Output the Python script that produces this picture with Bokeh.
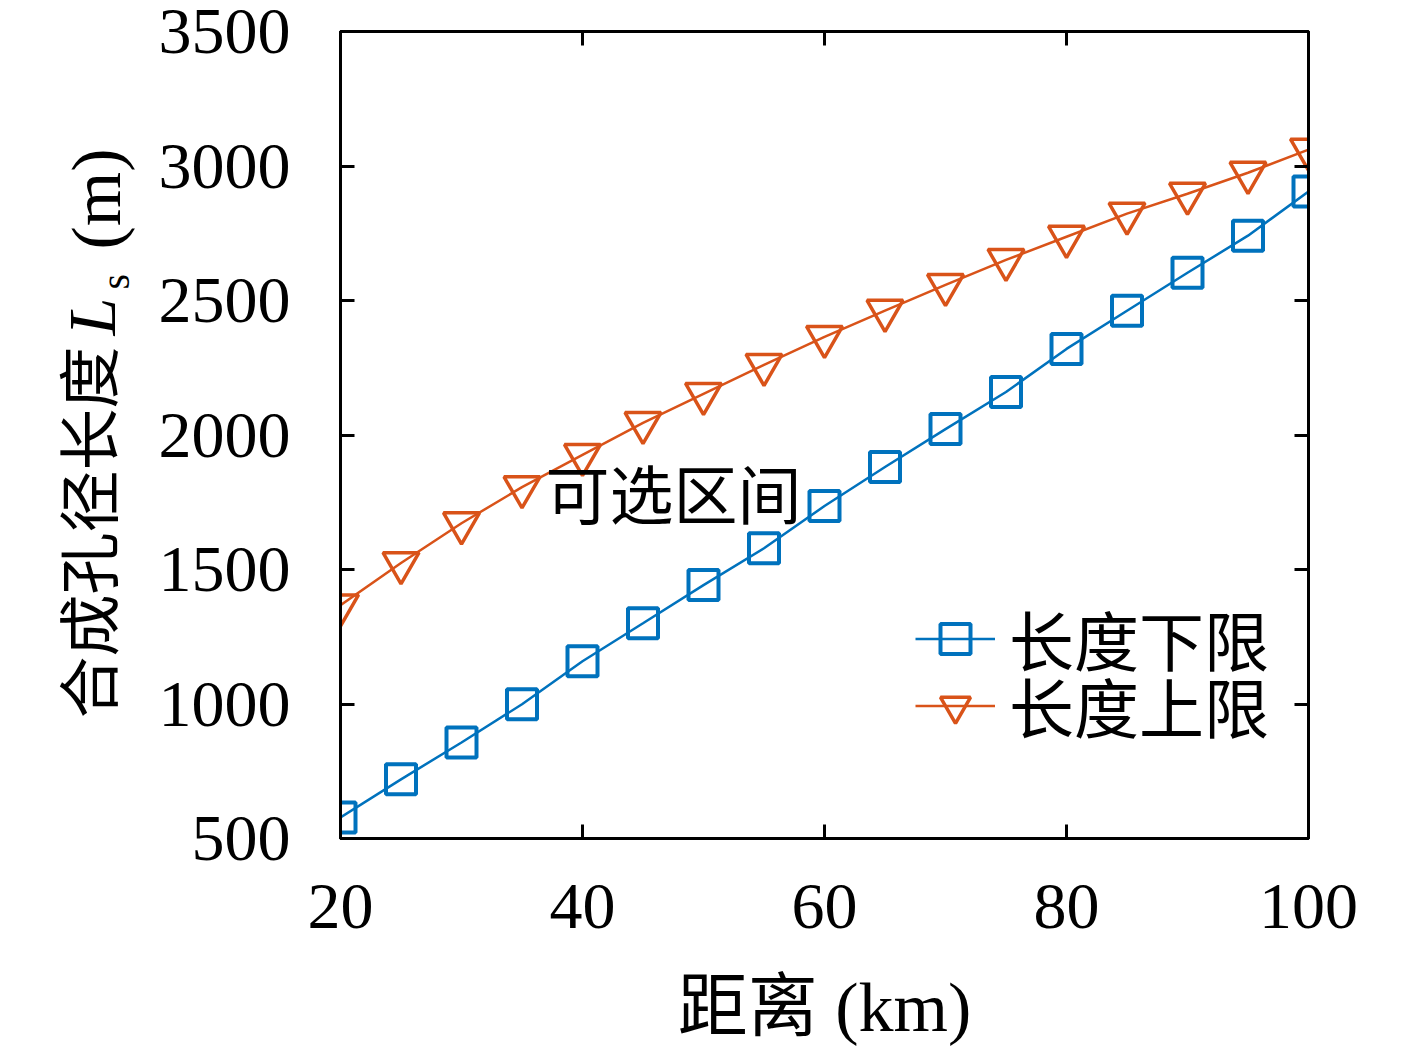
from bokeh.plotting import figure
from bokeh.models import Range1d, LinearAxis, Label, Legend, LegendItem, FixedTicker
from bokeh.layouts import row
from bokeh.embed import file_html
from bokeh.resources import INLINE
import math

distance = [20, 25, 30, 35, 40, 45, 50, 55, 60, 65, 70, 75, 80, 85, 90, 95, 100]
lower = [578, 720, 857, 999, 1159, 1300, 1442, 1579, 1736, 1881, 2022, 2160, 2320, 2462, 2603, 2741, 2905]
upper = [1367, 1524, 1672, 1806, 1926, 2045, 2153, 2261, 2365, 2462, 2558, 2651, 2737, 2823, 2897, 2975, 3061]
x_ticks = [20, 40, 60, 80, 100]
y_ticks = [500, 1000, 1500, 2000, 2500, 3000, 3500]
name_lower = "长度下限"
name_upper = "长度上限"
region_label = "可选区间"
y_title_cjk = "合成孔径长度"
y_title_sym = "L"
y_title_sub = "s"
y_title_unit = "(m)"
x_title = "距离 (km)"

BLUE = "#0072BD"
ORANGE = "#D95319"
NUM_FONT = "'Liberation Serif', 'Noto Sans CJK SC'"
CJK_FONT = "'Liberation Serif', 'Noto Sans CJK SC'"

LEFT_W = 150
W, H = 1409 - LEFT_W, 1050
TOP, BOTTOM = 31, 212

# ---- narrow figure holding the composed y-axis title (data units = canvas px) ----
t = figure(width=LEFT_W, height=H, output_backend="svg", toolbar_location=None,
           x_range=Range1d(0, LEFT_W), y_range=Range1d(H - BOTTOM, TOP),
           min_border_left=0, min_border_right=0, min_border_top=TOP,
           min_border_bottom=BOTTOM)
t.axis.visible = False
t.grid.visible = False
t.outline_line_color = None
t.background_fill_color = "white"
t.border_fill_color = "white"

def ylab(text, cx, cy, font, size, style="normal", baseline="middle"):
    t.add_layout(Label(x=cx, y=cy, text=text, angle=math.pi / 2, text_font=font,
                       text_font_style=style, text_font_size=size, text_align="left",
                       text_baseline=baseline, text_color="black"))

ylab(y_title_cjk, 91, 718, CJK_FONT, "62px")
ylab(y_title_sym, 91, 335, "'Liberation Serif'", "68px", "italic", "alphabetic")
ylab(y_title_sub, 115, 289, "'Liberation Serif'", "40px", "normal", "alphabetic")
ylab(y_title_unit, 96, 249, "'Liberation Serif'", "70px", "normal", "alphabetic")

# ---- main figure ----
p = figure(width=W, height=H, output_backend="svg", toolbar_location=None,
           x_range=Range1d(20, 100), y_range=Range1d(500, 3500),
           min_border_left=340 - LEFT_W, min_border_right=101, min_border_top=TOP,
           min_border_bottom=BOTTOM)
p.grid.visible = False
p.background_fill_color = "white"
p.border_fill_color = "white"
p.outline_line_color = "black"
p.outline_line_width = 3

def style_axis(ax, labels=True):
    ax.axis_line_width = 3
    ax.axis_line_color = "black"
    ax.major_tick_in = 14
    ax.major_tick_out = 0
    ax.major_tick_line_width = 3
    ax.minor_tick_line_color = None
    ax.major_label_text_font = NUM_FONT
    ax.major_label_text_font_size = "66px"
    ax.major_label_text_color = "black"
    if not labels:
        ax.major_label_text_font_size = "0px"
        ax.major_label_text_color = None

xa = p.xaxis[0]
ya = p.yaxis[0]
xa.ticker = FixedTicker(ticks=x_ticks)
ya.ticker = FixedTicker(ticks=y_ticks)
style_axis(xa)
style_axis(ya)
xa.major_label_standoff = 46
ya.major_label_standoff = 50
xa.axis_label = x_title
xa.axis_label_text_font = CJK_FONT
xa.axis_label_text_font_size = "70px"
xa.axis_label_text_font_style = "normal"
xa.axis_label_text_color = "black"
xa.axis_label_standoff = 38

ra = LinearAxis(ticker=FixedTicker(ticks=y_ticks))
ta = LinearAxis(ticker=FixedTicker(ticks=x_ticks))
style_axis(ra, labels=False)
style_axis(ta, labels=False)
p.add_layout(ra, "right")
p.add_layout(ta, "above")

l1 = p.line(distance, lower, line_color=BLUE, line_width=2.5)
s1 = p.scatter(distance, lower, marker="square", size=30, fill_color=None,
               line_color=BLUE, line_width=4)
l2 = p.line(distance, upper, line_color=ORANGE, line_width=2.5)
s2 = p.scatter(distance, upper, marker="inverted_triangle", size=36, fill_color=None,
               line_color=ORANGE, line_width=3.5)

def make_legend(label, rends, loc):
    lg = Legend(items=[LegendItem(label=label, renderers=rends)], location=loc,
                border_line_color=None, background_fill_alpha=0,
                glyph_width=80, glyph_height=75, label_height=50, spacing=0,
                label_standoff=14, padding=0, margin=0,
                label_text_font=CJK_FONT, label_text_font_size="65px",
                label_text_color="black")
    p.add_layout(lg)

make_legend(name_lower, [l1, s1], (575, 153))
make_legend(name_upper, [l2, s2], (575, 86))

def fx(px):
    return 20 + (px - 340) * 80 / 968

def fy(py):
    return 500 + (838 - py) * 3000 / 806

p.add_layout(Label(x=fx(545), y=fy(497), text=region_label, text_font=CJK_FONT,
                   text_font_size="64px", text_align="left", text_baseline="middle",
                   text_color="black"))

layout = row(t, p, spacing=0)
open("out.html", "w").write(file_html(layout, INLINE))
